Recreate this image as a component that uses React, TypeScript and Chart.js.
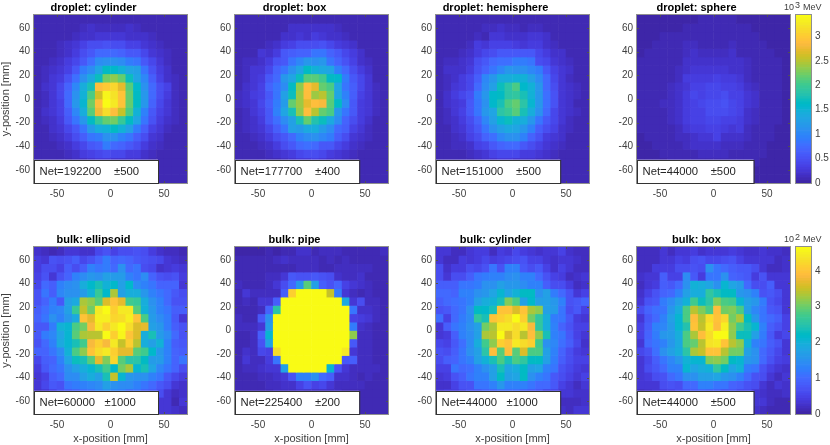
import { useEffect, useRef } from "react";
import { Chart, registerables } from "chart.js";

Chart.register(...registerables);

// bin centres in mm
const xBins = [-67.9, -60.8, -53.6, -46.5, -39.3, -32.2, -25, -17.9, -10.7, -3.6, 3.6, 10.7, 17.9, 25, 32.2, 39.3, 46.5, 53.6, 60.8, 67.9];
const yBins = [67.45, 60.35, 53.25, 46.15, 39.05, 31.95, 24.85, 17.75, 10.65, 3.55, -3.55, -10.65, -17.75, -24.85, -31.95, -39.05, -46.15, -53.25, -60.35, -67.45];
const xTicks = [-50, 0, 50];
const yTicks = [-60, -40, -20, 0, 20, 40, 60];

// droplet row, units of 10 MeV
const dropletCylinder = [
  [6, 6, 6, 8, 8, 10, 8, 10, 8, 10, 10, 8, 8, 8, 8, 8, 6, 6, 6, 6],
  [6, 8, 8, 8, 8, 10, 13, 17, 13, 13, 13, 13, 17, 13, 10, 8, 8, 8, 8, 6],
  [8, 8, 8, 10, 10, 13, 17, 20, 22, 26, 22, 22, 20, 17, 17, 13, 10, 8, 8, 8],
  [8, 8, 10, 13, 17, 22, 35, 44, 44, 50, 47, 44, 35, 35, 26, 20, 13, 10, 8, 8],
  [8, 10, 10, 13, 20, 32, 44, 56, 70, 73, 70, 65, 56, 54, 42, 26, 17, 13, 10, 8],
  [10, 10, 13, 20, 30, 38, 58, 78, 105, 112, 112, 105, 90, 85, 56, 38, 26, 13, 10, 8],
  [10, 13, 17, 22, 35, 58, 88, 105, 130, 165, 160, 150, 130, 125, 85, 50, 30, 17, 10, 8],
  [10, 13, 22, 30, 50, 80, 112, 135, 170, 225, 235, 220, 170, 130, 100, 62, 35, 20, 13, 10],
  [10, 17, 22, 42, 68, 100, 140, 175, 290, 300, 310, 270, 210, 160, 110, 73, 44, 35, 13, 10],
  [10, 13, 26, 38, 75, 110, 150, 205, 260, 335, 320, 295, 215, 165, 115, 70, 44, 30, 13, 10],
  [10, 13, 22, 35, 75, 115, 155, 225, 290, 340, 325, 295, 220, 165, 115, 68, 38, 26, 13, 10],
  [10, 17, 22, 35, 60, 100, 145, 210, 275, 315, 290, 255, 205, 150, 95, 56, 35, 26, 13, 8],
  [8, 13, 20, 32, 55, 85, 115, 165, 195, 215, 225, 195, 165, 130, 85, 50, 32, 20, 13, 8],
  [8, 10, 17, 26, 38, 58, 85, 120, 140, 150, 165, 150, 125, 90, 62, 35, 22, 13, 10, 8],
  [8, 10, 13, 17, 30, 44, 62, 85, 90, 110, 110, 95, 85, 62, 44, 26, 17, 10, 8, 8],
  [8, 8, 10, 13, 20, 30, 42, 54, 62, 90, 73, 68, 54, 44, 30, 20, 13, 10, 8, 8],
  [8, 8, 8, 10, 13, 20, 30, 35, 42, 44, 38, 38, 32, 30, 20, 13, 10, 8, 8, 6],
  [6, 8, 8, 8, 10, 13, 13, 20, 22, 22, 20, 20, 17, 17, 13, 10, 8, 8, 6, 6],
  [6, 6, 8, 8, 8, 8, 10, 10, 13, 13, 13, 10, 10, 10, 8, 8, 8, 6, 6, 6],
  [6, 6, 6, 6, 6, 8, 8, 8, 8, 8, 8, 8, 8, 8, 8, 6, 6, 6, 6, 6],
];
const dropletBox = [
  [6, 6, 6, 6, 6, 8, 8, 8, 10, 10, 10, 10, 10, 8, 6, 6, 6, 6, 6, 6],
  [6, 6, 8, 8, 8, 8, 8, 17, 20, 20, 17, 17, 17, 13, 10, 8, 8, 6, 6, 6],
  [8, 8, 8, 8, 10, 10, 17, 17, 22, 20, 30, 26, 20, 17, 13, 10, 8, 8, 6, 6],
  [8, 8, 10, 10, 13, 20, 30, 35, 44, 47, 44, 50, 42, 30, 22, 17, 10, 8, 8, 8],
  [8, 10, 10, 26, 20, 32, 54, 62, 68, 68, 85, 85, 68, 56, 38, 30, 17, 10, 10, 8],
  [10, 13, 13, 17, 30, 50, 58, 85, 100, 115, 112, 115, 85, 68, 50, 35, 20, 13, 10, 8],
  [10, 13, 22, 26, 38, 68, 85, 110, 130, 165, 150, 135, 130, 95, 73, 44, 30, 17, 10, 8],
  [10, 13, 22, 30, 56, 73, 115, 130, 170, 210, 210, 200, 165, 160, 90, 58, 38, 26, 10, 8],
  [10, 17, 26, 35, 68, 85, 105, 165, 235, 285, 270, 215, 205, 130, 85, 62, 38, 22, 13, 10],
  [13, 20, 30, 35, 58, 85, 125, 170, 240, 285, 240, 250, 215, 130, 95, 62, 35, 26, 13, 10],
  [13, 17, 26, 38, 62, 90, 120, 215, 240, 270, 290, 280, 210, 165, 105, 56, 32, 22, 13, 10],
  [10, 13, 22, 35, 54, 95, 130, 175, 235, 285, 250, 215, 205, 115, 85, 54, 30, 22, 13, 8],
  [10, 13, 20, 30, 54, 78, 105, 125, 175, 215, 180, 170, 135, 105, 68, 47, 30, 17, 10, 8],
  [10, 13, 20, 26, 38, 62, 85, 125, 120, 135, 140, 120, 105, 73, 62, 35, 22, 13, 10, 8],
  [8, 10, 13, 17, 32, 44, 56, 73, 92, 105, 112, 100, 90, 62, 44, 26, 17, 13, 10, 8],
  [8, 8, 10, 13, 20, 30, 44, 56, 73, 76, 70, 58, 56, 38, 30, 20, 13, 10, 8, 8],
  [6, 8, 8, 10, 13, 17, 26, 32, 42, 44, 44, 38, 32, 26, 17, 13, 10, 8, 6, 6],
  [6, 8, 8, 8, 10, 10, 13, 17, 22, 26, 30, 22, 20, 17, 13, 10, 8, 8, 6, 6],
  [6, 6, 6, 8, 8, 8, 10, 10, 13, 13, 13, 13, 10, 10, 8, 8, 6, 6, 6, 6],
  [6, 6, 6, 6, 6, 6, 8, 8, 8, 8, 8, 8, 8, 8, 8, 6, 6, 6, 6, 6],
];
const dropletHemisphere = [
  [6, 6, 6, 6, 6, 8, 8, 8, 8, 10, 10, 8, 8, 8, 8, 6, 6, 6, 6, 6],
  [6, 8, 8, 8, 8, 8, 13, 13, 17, 13, 13, 10, 13, 13, 10, 8, 6, 6, 6, 6],
  [8, 8, 8, 8, 10, 13, 10, 22, 22, 17, 17, 20, 22, 22, 17, 10, 8, 8, 6, 6],
  [8, 8, 10, 10, 13, 30, 26, 35, 35, 35, 30, 26, 30, 30, 17, 13, 10, 8, 8, 8],
  [8, 10, 10, 13, 17, 30, 38, 44, 56, 54, 58, 56, 56, 42, 30, 20, 17, 10, 10, 8],
  [10, 13, 13, 17, 26, 44, 54, 70, 78, 80, 90, 90, 85, 47, 38, 26, 17, 13, 10, 8],
  [10, 17, 17, 20, 32, 50, 68, 85, 100, 115, 112, 112, 100, 90, 56, 35, 22, 17, 10, 10],
  [10, 13, 17, 30, 42, 62, 100, 115, 145, 145, 150, 150, 125, 105, 70, 38, 26, 13, 10, 10],
  [10, 13, 22, 32, 42, 70, 105, 125, 170, 185, 205, 160, 150, 115, 73, 44, 26, 17, 13, 8],
  [10, 20, 30, 38, 50, 90, 115, 160, 165, 185, 190, 175, 150, 115, 78, 50, 26, 17, 13, 10],
  [10, 17, 26, 32, 56, 85, 110, 160, 175, 205, 215, 185, 155, 115, 78, 50, 26, 17, 10, 10],
  [10, 13, 22, 35, 54, 85, 115, 130, 185, 195, 210, 175, 140, 110, 73, 42, 26, 17, 13, 10],
  [10, 13, 20, 30, 44, 68, 100, 125, 155, 170, 150, 140, 115, 85, 56, 38, 22, 13, 10, 8],
  [8, 10, 17, 26, 38, 58, 85, 110, 125, 135, 130, 115, 95, 62, 47, 35, 20, 13, 10, 8],
  [8, 10, 13, 17, 35, 44, 68, 78, 100, 110, 110, 95, 68, 50, 32, 22, 17, 10, 8, 8],
  [8, 8, 13, 13, 20, 35, 42, 54, 65, 70, 73, 58, 44, 35, 26, 17, 13, 10, 8, 8],
  [6, 8, 8, 10, 13, 20, 26, 35, 42, 42, 42, 32, 30, 22, 17, 13, 10, 8, 6, 6],
  [6, 6, 8, 8, 10, 13, 17, 20, 22, 22, 20, 20, 17, 13, 13, 10, 8, 8, 6, 6],
  [6, 6, 6, 8, 8, 8, 10, 10, 13, 13, 13, 10, 10, 10, 8, 8, 6, 6, 6, 6],
  [6, 6, 6, 6, 6, 6, 8, 8, 8, 8, 8, 8, 8, 8, 8, 6, 6, 6, 6, 6],
];
const dropletSphere = [
  [5, 5, 5, 5, 5, 5, 5, 5, 6, 6, 6, 6, 6, 5, 5, 5, 5, 5, 5, 5],
  [5, 5, 5, 5, 5, 5, 6, 6, 6, 6, 6, 8, 8, 6, 6, 5, 5, 5, 5, 5],
  [5, 5, 5, 6, 6, 6, 6, 8, 8, 10, 10, 8, 6, 8, 6, 6, 5, 5, 5, 5],
  [5, 5, 6, 6, 8, 8, 13, 13, 8, 10, 10, 8, 13, 10, 8, 6, 6, 5, 5, 5],
  [5, 6, 6, 6, 8, 8, 15, 20, 13, 15, 13, 13, 17, 10, 10, 6, 6, 6, 5, 5],
  [6, 6, 6, 8, 8, 10, 17, 20, 17, 20, 20, 20, 20, 17, 13, 8, 6, 6, 6, 5],
  [6, 6, 6, 8, 10, 13, 20, 23, 23, 23, 23, 23, 20, 20, 15, 10, 8, 6, 6, 5],
  [6, 8, 10, 10, 10, 15, 27, 27, 30, 30, 33, 27, 27, 25, 15, 10, 8, 6, 6, 5],
  [8, 8, 8, 10, 13, 17, 23, 35, 37, 39, 39, 37, 33, 30, 17, 13, 8, 8, 6, 5],
  [6, 8, 10, 10, 15, 20, 30, 39, 37, 41, 41, 46, 37, 33, 23, 17, 10, 8, 6, 5],
  [6, 8, 8, 13, 15, 20, 30, 37, 39, 44, 46, 50, 41, 33, 23, 17, 10, 8, 6, 5],
  [6, 8, 8, 10, 13, 20, 30, 37, 37, 44, 46, 44, 39, 35, 20, 13, 10, 8, 6, 5],
  [6, 6, 8, 10, 13, 17, 27, 33, 35, 39, 41, 37, 37, 30, 17, 13, 8, 6, 6, 5],
  [6, 6, 8, 8, 10, 15, 23, 27, 27, 35, 35, 27, 25, 27, 15, 10, 8, 6, 5, 5],
  [5, 6, 6, 8, 10, 13, 15, 17, 23, 25, 33, 20, 20, 20, 13, 10, 6, 6, 5, 5],
  [5, 5, 6, 6, 8, 10, 13, 17, 17, 17, 20, 15, 15, 13, 10, 8, 6, 5, 5, 5],
  [5, 5, 5, 6, 6, 8, 10, 10, 13, 13, 13, 13, 10, 10, 8, 6, 6, 5, 5, 5],
  [5, 5, 5, 5, 6, 6, 6, 8, 8, 10, 10, 8, 8, 8, 6, 6, 5, 5, 5, 5],
  [5, 5, 5, 5, 5, 5, 6, 6, 6, 6, 8, 6, 6, 6, 5, 5, 5, 5, 5, 5],
  [5, 5, 5, 5, 5, 5, 5, 5, 5, 5, 5, 5, 5, 5, 5, 5, 5, 5, 5, 5],
];

// bulk row, units of 1 MeV
const bulkEllipsoid = [
  [25, 20, 10, 20, 30, 36, 25, 25, 54, 66, 48, 60, 60, 66, 60, 42, 25, 15, 20, 13],
  [42, 30, 66, 60, 66, 85, 54, 66, 92, 120, 92, 100, 92, 78, 72, 60, 54, 36, 25, 17],
  [42, 60, 60, 48, 85, 60, 85, 130, 110, 120, 100, 150, 100, 110, 60, 54, 25, 30, 42, 30],
  [48, 66, 30, 72, 92, 130, 140, 155, 150, 170, 165, 165, 130, 110, 145, 92, 72, 60, 66, 42],
  [54, 100, 85, 130, 140, 150, 190, 215, 240, 200, 215, 170, 215, 140, 130, 110, 92, 92, 92, 30],
  [66, 110, 85, 135, 150, 150, 165, 200, 265, 215, 330, 170, 195, 195, 160, 130, 115, 100, 78, 60],
  [72, 92, 120, 78, 175, 185, 330, 320, 290, 360, 400, 370, 275, 265, 190, 150, 125, 100, 72, 66],
  [85, 105, 125, 135, 170, 265, 345, 300, 440, 467, 410, 440, 445, 290, 200, 155, 125, 110, 85, 85],
  [92, 115, 150, 125, 160, 185, 400, 370, 450, 450, 420, 430, 450, 400, 280, 165, 140, 120, 78, 36],
  [78, 78, 120, 200, 210, 280, 300, 380, 440, 410, 440, 460, 430, 360, 365, 170, 160, 120, 85, 72],
  [78, 120, 135, 180, 205, 285, 330, 340, 340, 467, 410, 455, 400, 360, 195, 240, 165, 140, 100, 66],
  [72, 100, 125, 185, 205, 240, 270, 385, 410, 380, 445, 350, 410, 340, 190, 175, 200, 125, 85, 78],
  [92, 92, 110, 140, 200, 280, 320, 400, 430, 440, 410, 370, 370, 285, 270, 215, 160, 125, 92, 85],
  [54, 85, 92, 130, 180, 230, 240, 290, 365, 310, 420, 285, 250, 255, 220, 165, 165, 130, 92, 110],
  [42, 78, 100, 110, 150, 175, 190, 210, 240, 270, 215, 300, 330, 205, 240, 180, 135, 110, 92, 60],
  [36, 48, 85, 100, 140, 140, 170, 190, 170, 240, 345, 210, 160, 150, 150, 125, 110, 78, 54, 42],
  [30, 54, 78, 72, 110, 120, 125, 135, 145, 170, 150, 140, 140, 125, 115, 100, 78, 60, 36, 25],
  [25, 36, 48, 66, 78, 85, 100, 105, 125, 140, 130, 120, 100, 105, 85, 78, 60, 36, 15, 25],
  [30, 30, 42, 48, 60, 72, 66, 72, 92, 85, 100, 78, 85, 72, 60, 54, 30, 30, 10, 30],
  [20, 25, 30, 36, 36, 48, 54, 48, 60, 66, 54, 60, 48, 48, 48, 36, 30, 30, 25, 15],
];
const bulkPipe = [
  [6, 6, 6, 6, 10, 6, 10, 10, 25, 25, 10, 15, 15, 15, 10, 8, 8, 8, 10, 15],
  [10, 8, 8, 10, 13, 20, 27, 15, 20, 15, 15, 10, 15, 13, 15, 13, 10, 10, 8, 8],
  [10, 10, 8, 8, 10, 13, 10, 10, 17, 15, 15, 10, 13, 20, 15, 20, 17, 15, 13, 8],
  [8, 10, 10, 10, 15, 20, 30, 78, 72, 72, 78, 66, 60, 25, 20, 15, 25, 13, 10, 8],
  [15, 10, 10, 13, 15, 36, 60, 100, 155, 285, 170, 85, 66, 92, 48, 30, 25, 15, 13, 10],
  [10, 36, 15, 15, 20, 20, 85, 410, 900, 900, 900, 900, 345, 120, 36, 20, 10, 15, 13, 8],
  [10, 15, 10, 30, 36, 85, 900, 900, 900, 900, 900, 900, 900, 900, 185, 30, 60, 15, 15, 10],
  [10, 13, 10, 20, 92, 250, 900, 900, 900, 900, 900, 900, 900, 900, 900, 110, 25, 25, 15, 10],
  [15, 13, 13, 78, 150, 900, 900, 900, 900, 900, 900, 900, 900, 900, 900, 48, 42, 36, 15, 13],
  [15, 15, 20, 30, 165, 900, 900, 900, 900, 900, 900, 900, 900, 900, 900, 120, 25, 20, 13, 10],
  [13, 10, 15, 85, 210, 900, 900, 900, 900, 900, 900, 900, 900, 900, 900, 320, 20, 17, 10, 8],
  [10, 13, 20, 66, 170, 900, 900, 900, 900, 900, 900, 900, 900, 900, 900, 78, 20, 15, 10, 8],
  [10, 25, 15, 54, 48, 430, 900, 900, 900, 900, 900, 900, 900, 900, 440, 36, 20, 15, 13, 10],
  [8, 36, 15, 20, 42, 110, 900, 900, 900, 900, 900, 900, 900, 900, 78, 85, 20, 15, 10, 8],
  [10, 15, 15, 25, 30, 36, 170, 900, 900, 900, 900, 900, 210, 66, 30, 20, 15, 15, 15, 10],
  [10, 13, 13, 15, 15, 25, 36, 72, 130, 130, 150, 100, 85, 25, 25, 20, 13, 15, 10, 10],
  [8, 10, 10, 13, 20, 20, 25, 25, 48, 66, 48, 54, 30, 20, 15, 15, 15, 10, 10, 13],
  [8, 10, 10, 10, 13, 15, 15, 15, 25, 20, 20, 15, 15, 15, 13, 13, 10, 10, 10, 8],
  [8, 8, 10, 10, 10, 10, 13, 13, 15, 13, 13, 10, 10, 10, 10, 15, 10, 10, 8, 8],
  [8, 8, 8, 8, 10, 10, 10, 10, 13, 13, 10, 10, 10, 10, 10, 13, 13, 10, 8, 8],
];
const bulkCylinder = [
  [30, 30, 20, 15, 30, 42, 42, 20, 42, 30, 54, 42, 30, 25, 36, 36, 48, 25, 15, 15],
  [30, 20, 20, 42, 30, 42, 54, 42, 48, 54, 60, 66, 48, 48, 30, 25, 36, 30, 25, 20],
  [60, 25, 42, 42, 60, 54, 66, 110, 66, 130, 130, 78, 60, 78, 48, 25, 48, 36, 20, 15],
  [60, 36, 60, 60, 85, 110, 120, 130, 130, 140, 150, 130, 130, 100, 72, 48, 42, 20, 25, 30],
  [85, 85, 85, 110, 110, 120, 150, 150, 170, 160, 160, 140, 130, 130, 85, 60, 60, 42, 15, 25],
  [100, 100, 92, 130, 130, 150, 160, 180, 210, 180, 200, 220, 220, 150, 170, 120, 100, 66, 36, 48],
  [85, 100, 105, 110, 130, 170, 190, 200, 240, 310, 280, 170, 215, 170, 170, 160, 125, 72, 78, 92],
  [72, 78, 100, 115, 150, 220, 215, 240, 400, 400, 360, 400, 330, 320, 170, 165, 115, 60, 78, 48],
  [105, 48, 100, 120, 140, 260, 240, 400, 410, 430, 467, 410, 300, 260, 190, 120, 110, 78, 42, 36],
  [30, 85, 115, 125, 150, 175, 300, 330, 440, 440, 430, 445, 385, 260, 190, 130, 92, 72, 48, 48],
  [36, 42, 85, 130, 140, 175, 330, 340, 467, 360, 430, 340, 390, 320, 240, 130, 110, 78, 48, 36],
  [54, 48, 78, 105, 140, 190, 270, 320, 410, 395, 445, 425, 410, 270, 150, 135, 105, 85, 54, 25],
  [72, 60, 85, 115, 150, 175, 250, 390, 290, 390, 290, 360, 280, 280, 170, 130, 92, 60, 42, 36],
  [60, 85, 92, 110, 130, 170, 200, 240, 280, 240, 280, 260, 220, 220, 170, 120, 85, 60, 48, 48],
  [48, 48, 110, 100, 105, 130, 150, 170, 240, 180, 190, 220, 170, 180, 130, 110, 72, 54, 42, 36],
  [30, 42, 66, 85, 110, 130, 130, 170, 220, 170, 180, 220, 150, 130, 110, 78, 60, 48, 30, 48],
  [25, 25, 48, 66, 72, 110, 110, 130, 160, 130, 130, 130, 110, 100, 100, 78, 48, 36, 20, 30],
  [30, 42, 42, 54, 66, 66, 85, 85, 100, 100, 100, 85, 78, 66, 48, 48, 36, 30, 25, 25],
  [25, 30, 36, 42, 48, 60, 66, 66, 72, 78, 72, 66, 66, 48, 48, 36, 20, 15, 20, 25],
  [25, 25, 30, 36, 36, 48, 48, 54, 60, 60, 54, 48, 48, 42, 36, 30, 25, 20, 36, 30],
];
const bulkBox = [
  [15, 15, 20, 30, 20, 30, 36, 42, 25, 36, 30, 36, 42, 30, 25, 25, 36, 25, 25, 20],
  [20, 20, 20, 30, 30, 48, 42, 60, 66, 54, 54, 60, 66, 48, 36, 30, 36, 30, 20, 25],
  [15, 15, 42, 42, 42, 60, 60, 72, 60, 150, 110, 100, 85, 78, 78, 60, 30, 20, 15, 25],
  [25, 30, 30, 85, 48, 48, 140, 78, 42, 110, 115, 150, 92, 85, 78, 42, 66, 36, 30, 36],
  [20, 36, 42, 85, 78, 100, 150, 200, 190, 180, 150, 210, 180, 165, 100, 60, 60, 85, 36, 30],
  [25, 48, 72, 92, 100, 125, 170, 190, 195, 260, 240, 220, 220, 160, 150, 130, 72, 78, 60, 36],
  [36, 66, 78, 120, 140, 170, 200, 270, 230, 250, 310, 280, 270, 210, 170, 160, 120, 72, 54, 30],
  [60, 92, 105, 115, 160, 190, 280, 340, 310, 280, 390, 300, 310, 280, 170, 135, 115, 78, 66, 36],
  [36, 78, 100, 125, 170, 210, 280, 390, 340, 430, 400, 420, 300, 330, 220, 160, 110, 100, 85, 48],
  [48, 85, 130, 135, 165, 210, 245, 400, 350, 445, 390, 450, 320, 270, 240, 210, 130, 85, 66, 48],
  [48, 92, 120, 155, 165, 190, 280, 330, 390, 430, 467, 460, 320, 230, 230, 170, 120, 78, 42, 54],
  [36, 100, 115, 130, 160, 185, 280, 295, 340, 435, 440, 400, 340, 320, 200, 130, 110, 85, 66, 36],
  [54, 72, 105, 150, 170, 190, 250, 330, 350, 400, 400, 340, 300, 300, 170, 150, 100, 78, 54, 30],
  [36, 54, 85, 110, 135, 160, 200, 210, 210, 310, 320, 300, 220, 205, 160, 150, 100, 66, 48, 42],
  [30, 60, 78, 100, 125, 130, 210, 180, 190, 200, 260, 220, 180, 200, 120, 110, 66, 48, 36, 25],
  [36, 42, 60, 72, 100, 110, 150, 150, 170, 170, 180, 160, 150, 130, 100, 72, 60, 36, 20, 36],
  [30, 36, 36, 60, 72, 60, 100, 100, 130, 130, 110, 110, 92, 85, 72, 60, 36, 15, 36, 25],
  [20, 25, 36, 42, 48, 60, 66, 78, 85, 78, 78, 60, 66, 54, 54, 36, 25, 15, 20, 25],
  [25, 25, 36, 36, 42, 48, 54, 60, 60, 54, 60, 48, 42, 36, 25, 30, 36, 15, 10, 10],
  [15, 20, 25, 30, 36, 42, 48, 48, 42, 48, 42, 36, 36, 30, 20, 25, 15, 10, 10, 10],
];

const topMax = 344;
const bottomMax = 467;
const topBarTicks = [0, 0.5, 1, 1.5, 2, 2.5, 3];
const bottomBarTicks = [0, 1, 2, 3, 4];

const parula = [
  [0.2422, 0.1504, 0.6603], [0.2504, 0.165, 0.7076], [0.2578, 0.1818, 0.7511], [0.2647, 0.1978, 0.7952],
  [0.2706, 0.2147, 0.8364], [0.2751, 0.2342, 0.871], [0.2783, 0.2559, 0.8991], [0.2803, 0.2782, 0.9221],
  [0.2813, 0.3006, 0.9414], [0.281, 0.3228, 0.9579], [0.2795, 0.3447, 0.9717], [0.276, 0.3667, 0.9829],
  [0.2699, 0.3892, 0.9906], [0.2602, 0.4123, 0.9952], [0.244, 0.4358, 0.9988], [0.2206, 0.4603, 0.9973],
  [0.1963, 0.4847, 0.9892], [0.1834, 0.5074, 0.9798], [0.1786, 0.5289, 0.9682], [0.1764, 0.5499, 0.952],
  [0.1687, 0.5703, 0.9359], [0.154, 0.5902, 0.9218], [0.146, 0.6091, 0.9079], [0.138, 0.6276, 0.8973],
  [0.1248, 0.6459, 0.8883], [0.1113, 0.6635, 0.8763], [0.0952, 0.6798, 0.8598], [0.0689, 0.6948, 0.8394],
  [0.0297, 0.7082, 0.8163], [0.0036, 0.7203, 0.7917], [0.0067, 0.7312, 0.766], [0.0433, 0.7411, 0.7394],
  [0.0964, 0.75, 0.712], [0.1408, 0.7584, 0.6842], [0.1717, 0.767, 0.6554], [0.1938, 0.7758, 0.6251],
  [0.2161, 0.7843, 0.5923], [0.247, 0.7918, 0.5567], [0.2906, 0.7973, 0.5188], [0.3406, 0.8008, 0.4789],
  [0.3909, 0.8029, 0.4354], [0.4456, 0.8024, 0.3909], [0.5044, 0.7993, 0.348], [0.5616, 0.7942, 0.3045],
  [0.6174, 0.7876, 0.2612], [0.672, 0.7793, 0.2227], [0.7242, 0.7698, 0.191], [0.7738, 0.7598, 0.1646],
  [0.8203, 0.7498, 0.1535], [0.8634, 0.7406, 0.1596], [0.9035, 0.733, 0.1774], [0.9393, 0.7288, 0.21],
  [0.9728, 0.7298, 0.2394], [0.9956, 0.7434, 0.2371], [0.997, 0.7659, 0.2199], [0.9952, 0.7893, 0.2028],
  [0.9892, 0.8136, 0.1885], [0.9786, 0.8386, 0.1766], [0.9676, 0.8639, 0.1643], [0.961, 0.889, 0.1537],
  [0.9597, 0.9135, 0.1423], [0.9628, 0.9373, 0.1265], [0.9691, 0.9606, 0.1064], [0.9769, 0.9839, 0.0805],
];

const font = "'Liberation Sans', Arial, sans-serif";
const inkColor = "#404040";
const frameColor = "#8f8f8f";

const colorOf = (value: number, max: number) => {
  const level = Math.min(63, Math.floor((value / max) * 64));
  const [r, g, b] = parula[level];
  return `rgb(${Math.round(r * 255)}, ${Math.round(g * 255)}, ${Math.round(b * 255)})`;
};

// frame and small inward ticks, the way matlab boxes its axes
const framePlugin = {
  id: "frame",
  afterDatasetsDraw(chart: any) {
    const { ctx, chartArea: a, scales } = chart;
    ctx.save();
    ctx.lineWidth = 1;
    ctx.strokeStyle = "#505050";
    ctx.beginPath();
    if (scales.x.type === "linear") {
      scales.x.ticks.forEach((t: any) => {
        const px = Math.round(scales.x.getPixelForValue(t.value)) + 0.5;
        ctx.moveTo(px, a.bottom);
        ctx.lineTo(px, a.bottom - 2);
        ctx.moveTo(px, a.top);
        ctx.lineTo(px, a.top + 2);
      });
      scales.y.ticks.forEach((t: any) => {
        const py = Math.round(scales.y.getPixelForValue(t.value)) + 0.5;
        ctx.moveTo(a.left, py);
        ctx.lineTo(a.left + 2, py);
        ctx.moveTo(a.right, py);
        ctx.lineTo(a.right - 2, py);
      });
    }
    ctx.stroke();
    ctx.strokeStyle = frameColor;
    ctx.strokeRect(a.left - 0.5, a.top - 0.5, a.right - a.left + 1, a.bottom - a.top + 1);
    ctx.restore();
  },
};

// white "Net=" box in the lower left corner of each map
const netBoxPlugin = {
  id: "netBox",
  afterDraw(chart: any, _args: any, opts: any) {
    if (!opts.text) return;
    const { ctx, chartArea: a, scales } = chart;
    const right = scales.x.getPixelForValue(opts.right);
    const top = scales.y.getPixelForValue(-51.3);
    ctx.save();
    ctx.fillStyle = "#ffffff";
    ctx.fillRect(a.left, top, right - a.left, a.bottom - top);
    ctx.strokeStyle = "#333333";
    ctx.lineWidth = 1;
    ctx.strokeRect(a.left + 0.5, Math.round(top) + 0.5, right - a.left, a.bottom - Math.round(top));
    ctx.fillStyle = "#262626";
    ctx.font = `11.3px ${font}`;
    ctx.textBaseline = "middle";
    ctx.fillText(opts.text, a.left + 5.5, (top + a.bottom) / 2 + 0.5);
    ctx.restore();
  },
};

const unitPlugin = {
  id: "unit",
  afterDraw(chart: any, _args: any, opts: any) {
    const { ctx, chartArea: a } = chart;
    ctx.save();
    ctx.fillStyle = inkColor;
    ctx.textBaseline = "alphabetic";
    const y = a.top - 5;
    ctx.font = `9px ${font}`;
    ctx.fillText("10", a.left - 12, y);
    ctx.fillText(opts.power, a.left - 1, y - 2);
    ctx.fillText("MeV", a.left + 7, y);
    ctx.restore();
  },
};

interface HeatMapProps {
  title: string;
  cells: number[][];
  max: number;
  net: string;
  boxRight: number;
  left: number;
  top: number;
  plotHeight: number;
  titleCenter: number;
  xLabel?: boolean;
  yLabel?: boolean;
}

const PLOT_WIDTH = 153;
const AXIS_WIDTH = 34;
const HEAD = 15;
const FOOT = 30;

const HeatMap = ({ title, cells, max, net, boxRight, left, top, plotHeight, titleCenter, xLabel, yLabel }: HeatMapProps) => {
  const canvasRef = useRef<HTMLCanvasElement | null>(null);
  // the title sits over the middle of the canvas, so the right padding places it
  const canvasLeft = left - AXIS_WIDTH;
  const rightPad = Math.max(6, 2 * (titleCenter - canvasLeft) - AXIS_WIDTH - PLOT_WIDTH);

  useEffect(() => {
    if (!canvasRef.current) return;
    const halfY = 3.55;
    const datasets = yBins.map((y, r) => ({
      data: xBins.map((x) => ({ x, y: [y - halfY, y + halfY] })),
      backgroundColor: cells[r].map((v) => colorOf(v, max)),
      borderWidth: 0,
      barPercentage: 1,
      categoryPercentage: 1,
      grouped: false,
    }));
    const chart = new Chart(canvasRef.current, {
      type: "bar",
      data: { datasets } as any,
      plugins: [framePlugin, netBoxPlugin],
      options: {
        animation: false,
        responsive: false,
        layout: { padding: { right: rightPad } },
        plugins: {
          legend: { display: false },
          tooltip: { enabled: false },
          title: {
            display: true,
            text: title,
            color: "#000000",
            font: { family: font, size: 11, weight: "bold", lineHeight: 1 },
            padding: { top: 2.5, bottom: 1.5 },
          },
          netBox: { text: net, right: boxRight },
        } as any,
        scales: {
          x: {
            type: "linear",
            offset: false,
            min: -71.5,
            max: 71.5,
            afterBuildTicks: (s: any) => {
              s.ticks = xTicks.map((value) => ({ value }));
            },
            afterFit: (s: any) => {
              s.height = FOOT;
            },
            grid: { display: false, drawTicks: false },
            border: { display: false },
            ticks: { color: inkColor, font: { family: font, size: 10 }, padding: 5, maxRotation: 0, callback: (v: any) => String(v) },
            title: {
              display: !!xLabel,
              text: "x-position [mm]",
              color: inkColor,
              font: { family: font, size: 11, lineHeight: 1 },
              padding: { top: 4, bottom: 0 },
            },
          },
          y: {
            type: "linear",
            min: -71,
            max: 71,
            afterBuildTicks: (s: any) => {
              s.ticks = yTicks.map((value) => ({ value }));
            },
            afterFit: (s: any) => {
              s.width = AXIS_WIDTH;
            },
            grid: { display: false, drawTicks: false },
            border: { display: false },
            ticks: { color: inkColor, font: { family: font, size: 10 }, padding: 4, callback: (v: any) => String(v) },
            title: {
              display: !!yLabel,
              text: "y-position [mm]",
              color: inkColor,
              font: { family: font, size: 11, lineHeight: 1 },
              padding: { top: 0, bottom: 0 },
            },
          },
        },
      } as any,
    });
    return () => chart.destroy();
  }, []);

  return (
    <canvas
      ref={canvasRef}
      width={AXIS_WIDTH + PLOT_WIDTH + rightPad}
      height={HEAD + plotHeight + FOOT}
      style={{ position: "absolute", left: canvasLeft, top: top - HEAD }}
    />
  );
};

const ColorBar = ({ max, ticks, power, top, plotHeight }: { max: number; ticks: number[]; power: string; top: number; plotHeight: number }) => {
  const canvasRef = useRef<HTMLCanvasElement | null>(null);

  useEffect(() => {
    if (!canvasRef.current) return;
    const datasets = parula.map((_c, i) => ({
      data: [[(i / 64) * max, ((i + 1) / 64) * max]],
      backgroundColor: colorOf(((i + 0.5) / 64) * max, max),
      borderWidth: 0,
      barPercentage: 1,
      categoryPercentage: 1,
      grouped: false,
    }));
    const chart = new Chart(canvasRef.current, {
      type: "bar",
      data: { labels: ["bar"], datasets } as any,
      plugins: [framePlugin, unitPlugin],
      options: {
        animation: false,
        responsive: false,
        layout: { padding: { left: 20, top: HEAD, bottom: FOOT } },
        plugins: {
          legend: { display: false },
          tooltip: { enabled: false },
          unit: { power },
        } as any,
        scales: {
          x: { display: false },
          y: {
            type: "linear",
            position: "right",
            min: 0,
            max,
            afterBuildTicks: (s: any) => {
              s.ticks = ticks.map((value) => ({ value }));
            },
            afterFit: (s: any) => {
              s.width = 19;
            },
            grid: { display: false, drawTicks: false },
            border: { display: false },
            ticks: { color: inkColor, font: { family: font, size: 10 }, padding: 4, callback: (v: any) => String(v) },
          },
        },
      } as any,
    });
    return () => chart.destroy();
  }, []);

  return (
    <canvas
      ref={canvasRef}
      width={54}
      height={HEAD + plotHeight + FOOT}
      style={{ position: "absolute", left: 776, top: top - HEAD }}
    />
  );
};

export default function App() {
  return (
    <div style={{ position: "absolute", left: 0, top: 0, width: 830, height: 445, background: "#ffffff", overflow: "hidden" }}>
      <HeatMap title="droplet: cylinder" cells={dropletCylinder} max={topMax} net="Net=192200    ±500" boxRight={44.4} left={34} top={15} plotHeight={168} titleCenter={102} yLabel />
      <HeatMap title="droplet: box" cells={dropletBox} max={topMax} net="Net=177700    ±400" boxRight={44.6} left={235} top={15} plotHeight={168} titleCenter={304} />
      <HeatMap title="droplet: hemisphere" cells={dropletHemisphere} max={topMax} net="Net=151000    ±500" boxRight={44.6} left={436} top={15} plotHeight={168} titleCenter={502} />
      <HeatMap title="droplet: sphere" cells={dropletSphere} max={topMax} net="Net=44000    ±500" boxRight={37.5} left={637} top={15} plotHeight={168} titleCenter={705} />
      <ColorBar max={3.44} ticks={topBarTicks} power="3" top={15} plotHeight={168} />
      <HeatMap title="bulk: ellipsoid" cells={bulkEllipsoid} max={bottomMax} net="Net=60000   ±1000" boxRight={44.4} left={34} top={247} plotHeight={167} titleCenter={104} xLabel yLabel />
      <HeatMap title="bulk: pipe" cells={bulkPipe} max={bottomMax} net="Net=225400    ±200" boxRight={44.6} left={235} top={247} plotHeight={167} titleCenter={306} xLabel />
      <HeatMap title="bulk: cylinder" cells={bulkCylinder} max={bottomMax} net="Net=44000   ±1000" boxRight={44.6} left={436} top={247} plotHeight={167} titleCenter={505} xLabel />
      <HeatMap title="bulk: box" cells={bulkBox} max={bottomMax} net="Net=44000    ±500" boxRight={37.5} left={637} top={247} plotHeight={167} titleCenter={709} xLabel />
      <ColorBar max={4.67} ticks={bottomBarTicks} power="2" top={247} plotHeight={167} />
    </div>
  );
}
